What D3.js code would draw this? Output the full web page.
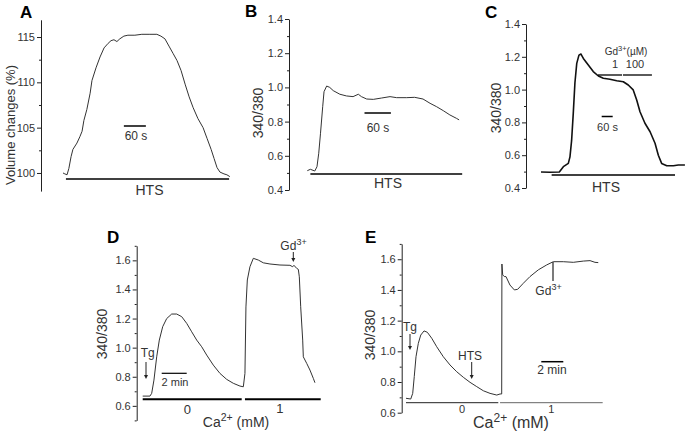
<!DOCTYPE html>
<html><head><meta charset="utf-8">
<script src="https://cdn.jsdelivr.net/npm/d3@7"></script>
<style>body{margin:0;background:#fff}svg{display:block}</style>
</head><body><svg id="c" width="689" height="433"></svg>
<script>
// ---- Panel A: cell volume (%) vs time (s)
const aTime=[0,5,11,16,22,27,38,46,52,57,65,74,79,90,101,112,123,131,139,147,155,166,177,196,215,237,256,267,278,289,300,311,322,333,344,355,368,382,393,404,412,420,428,439,447,455];
const aVol=[100.0,99.9,99.8,100.5,101.8,102.6,103.3,104.0,104.6,105.8,107.0,108.8,110.2,111.6,112.8,113.8,114.3,114.6,114.7,114.5,114.8,115.1,115.2,115.2,115.3,115.3,115.3,115.1,114.8,114.0,113.2,112.4,111.3,109.8,108.4,107.2,106.0,105.0,103.8,102.6,101.6,100.6,100.1,99.9,99.8,99.6];
const aTicks=[100,105,110,115];
// ---- Panel B: 340/380 ratio vs time (s)
const bTime=[0,7,17,22,26,30,35,38,44,51,59,74,89,104,116,123,135,150,169,188,203,226,244,263,279,294,309,324,339,345];
const bRatio=[0.513,0.521,0.511,0.536,0.615,0.732,0.887,0.975,1.008,1.0,0.981,0.96,0.95,0.946,0.96,0.946,0.932,0.93,0.938,0.946,0.94,0.94,0.942,0.932,0.907,0.887,0.864,0.839,0.819,0.81];
// ---- Panel C
const cTime=[0,49,100,122,149,158,167,176,185,195,207,218,231,258,285,313,340,376,413,449,476,503,522,540,567,595,622,640,658,686,722,749,785];
const cRatio=[0.498,0.496,0.498,0.53,0.55,0.59,0.69,0.855,1.04,1.16,1.21,1.217,1.19,1.15,1.11,1.083,1.069,1.063,1.054,1.048,1.028,0.998,0.937,0.865,0.795,0.743,0.673,0.60,0.55,0.536,0.536,0.54,0.54];
const ratioTicksBC=[0.4,0.6,0.8,1.0,1.2,1.4];
// ---- Panel D (time in min)
const dTime=[0,0.58,0.72,0.90,1.12,1.33,1.60,1.92,2.32,2.72,3.12,3.52,3.92,4.32,4.72,5.12,5.65,6.18,6.72,7.25,7.78,8.05,8.18,8.26,8.37,8.58,8.85,9.25,9.65,10.18,10.98,11.78,12.0,12.1,12.32,12.45,12.53,12.64,12.80,12.85,13.12,13.38,13.65,13.78];
const dRatio=[0.667,0.667,0.686,0.777,0.937,1.052,1.144,1.20,1.231,1.231,1.213,1.167,1.109,1.052,1.006,0.949,0.880,0.823,0.782,0.755,0.736,0.731,0.823,1.28,1.465,1.556,1.614,1.602,1.583,1.575,1.568,1.566,1.556,1.566,1.545,1.538,1.487,1.281,1.052,0.937,0.892,0.846,0.789,0.759];
// ---- Panel E (time in min)
const eTime=[0,0.43,0.61,0.75,0.91,1.12,1.34,1.64,1.94,2.34,2.79,3.39,4.0,4.61,5.21,5.82,6.43,7.03,7.64,8.25,8.55,8.70,8.72,8.79,8.94,9.09,9.45,9.85,10.15,10.66,11.27,12.03,12.79,13.39,14.3,15.21,16.12,16.73,17.18,17.48];
const eRatio=[0.694,0.689,0.726,0.835,0.965,1.052,1.106,1.133,1.124,1.085,1.03,0.965,0.911,0.867,0.831,0.798,0.77,0.743,0.726,0.715,0.722,0.722,1.569,1.498,1.487,1.487,1.432,1.40,1.404,1.443,1.487,1.531,1.563,1.584,1.584,1.580,1.588,1.591,1.580,1.578];
const ratioTicksDE=[0.6,0.8,1.0,1.2,1.4,1.6];
const caLevels=["0","1"];

const FONT='"Liberation Sans", Arial, Helvetica, sans-serif';
const INK='#222', TXT='#333';
const svg=d3.select('#c').attr('font-family',FONT);

function yAxis(x0,y,majors,minors,fmt){
  const g=svg.append('g').attr('transform',`translate(${x0},0)`)
    .call(d3.axisLeft(y).tickValues(majors).tickSize(4).tickSizeOuter(0).tickPadding(2).tickFormat(fmt));
  g.select('.domain').attr('stroke',INK);
  g.selectAll('.tick line').attr('stroke',INK);
  g.selectAll('text').attr('font-size',11).attr('fill',TXT).attr('font-family',FONT);
  const m=svg.append('g').attr('transform',`translate(${x0},0)`)
    .call(d3.axisLeft(y).tickValues(minors).tickSize(2).tickFormat(''));
  m.select('.domain').remove();
  m.selectAll('.tick line').attr('stroke',INK);
}
function trace(xs,ys,x,y,w,col){
  const pts=xs.map((t,i)=>[t,ys[i]]);
  svg.append('path').datum(pts).attr('fill','none').attr('stroke',col||INK).attr('stroke-width',w||1)
    .attr('stroke-linejoin','round').attr('d',d3.line().x(d=>x(d[0])).y(d=>y(d[1])));
}
function hbar(x,t0,t1,yy,w,col){
  svg.append('line').attr('x1',x(t0)).attr('x2',x(t1)).attr('y1',yy).attr('y2',yy)
    .attr('stroke',col||'#000').attr('stroke-width',w||1.5);
}
function text(xx,yy,s,size,anchor,weight){
  return svg.append('text').attr('x',xx).attr('y',yy).attr('font-size',size).attr('fill',TXT)
    .attr('text-anchor',anchor||'middle').attr('font-weight',weight||'normal').text(s);
}
function vtitle(xx,yy,s,size){
  svg.append('text').attr('transform',`translate(${xx},${yy}) rotate(-90)`).attr('font-size',size||14)
    .attr('fill',TXT).attr('text-anchor','middle').text(s);
}
function sup(xx,yy,base,supS,rest,size,anchor){
  const t=svg.append('text').attr('x',xx).attr('y',yy).attr('font-size',size).attr('fill',TXT).attr('text-anchor',anchor||'middle');
  t.append('tspan').text(base);
  t.append('tspan').attr('dy',-size*0.4).attr('font-size',size*0.75).text(supS);
  if(rest) t.append('tspan').attr('dy',size*0.4).text(rest);
  return t;
}
function arrow(xx,y0,y1){
  svg.append('line').attr('x1',xx).attr('x2',xx).attr('y1',y0).attr('y2',y1-2).attr('stroke',INK).attr('stroke-width',1);
  svg.append('path').attr('d',`M${xx-2},${y1-4}L${xx+2},${y1-4}L${xx},${y1}Z`).attr('fill',INK);
}
function range(a,b,s){const r=[];for(let v=a;v<=b+1e-9;v+=s)r.push(+v.toFixed(3));return r;}

// ===== A =====
{
  const x=d3.scaleLinear().domain([0,460]).range([63,63+460*22/60]);
  const y=d3.scaleLinear().domain([98,116.9]).range([191.1,19.8]);
  yAxis(41,y,aTicks,[102.5,107.5,112.5],d3.format('d'));
  trace(aTime,aVol,x,y,1,'#333');
  hbar(x,8,453,179,1.5);
  text(149.5,195,'HTS',14);
  hbar(x,166,226,126,1.5);
  text(136,140,'60 s',12);
  vtitle(15,125,'Volume changes (%)',13);
  text(20,18,'A',17,'start','bold').attr('fill','#000');
}
// ===== B =====
{
  const x=d3.scaleLinear().domain([0,350]).range([307.3,307.3+350*0.44]);
  const y=d3.scaleLinear().domain([0.4,1.4]).range([190,19]);
  yAxis(289,y,ratioTicksBC,range(0.5,1.3,0.2),d3.format('.1f'));
  trace(bTime,bRatio,x,y,1,'#333');
  hbar(x,7,352,174,1.5);
  text(388,188,'HTS',14);
  hbar(x,130,190,113,1.5);
  text(378,132,'60 s',12);
  vtitle(263,113,'340/380',14);
  text(245,17,'B',17,'start','bold').attr('fill','#000');
}
// ===== C =====
{
  const x=d3.scaleLinear().domain([0,790]).range([541,541+790*11/60]);
  const y=d3.scaleLinear().domain([0.4,1.4]).range([188,24]);
  yAxis(526,y,ratioTicksBC,range(0.5,1.3,0.2),d3.format('.1f'));
  trace(cTime,cRatio,x,y,1.6,'#111');
  hbar(x,58,731,175,1.5);
  text(606,192,'HTS',14);
  hbar(x,311,442,75,1.3);
  hbar(x,447,605,75,1.3);
  text(615,68,'1',11);
  text(635,68,'100',11);
  sup(626,55,'Gd','3+','(\u00b5M)',10);
  hbar(x,331,391,116.5,1.5);
  text(607.5,131,'60 s',11);
  vtitle(501,108,'340/380',14);
  text(485,18,'C',17,'start','bold').attr('fill','#000');
}
// ===== D =====
{
  const x=d3.scaleLinear().domain([0,14.5]).range([142.7,142.7+14.5*12.5]);
  const y=d3.scaleLinear().domain([0.5,1.7]).range([420.4,245.8]);
  yAxis(136.7,y,ratioTicksDE,[0.5,0.7,0.9,1.1,1.3,1.5,1.7],d3.format('.1f'));
  trace(dTime,dRatio,x,y,1,'#333');
  hbar(x,0,7.92,399.3,2);
  hbar(x,8.18,14.24,399.3,2);
  text(x(3.57),414,caLevels[0],13);
  text(x(10.98),413,caLevels[1],13);
  sup(236,427,'Ca','2+',' (mM)',14);
  hbar(x,1.52,3.52,373.3,1.2);
  text(175,386,'2 min',11);
  text(147.7,357,'Tg',12);
  arrow(146,362,379);
  sup(293.5,250,'Gd','3+',null,12);
  arrow(293.3,252,262);
  vtitle(107,334,'340/380',14);
  text(107,243,'D',17,'start','bold').attr('fill','#000');
}
// ===== E =====
{
  const x=d3.scaleLinear().domain([0,18]).range([406,406+18*11]);
  const y=d3.scaleLinear().domain([0.6,1.7]).range([412.7,243.9]);
  yAxis(401.7,y,ratioTicksDE,[0.7,0.9,1.1,1.3,1.5,1.7],d3.format('.1f'));
  trace(eTime,eRatio,x,y,1,'#333');
  hbar(x,0,8.39,402.7,1,'#222');
  hbar(x,8.55,17.88,402.7,1,'#666');
  text(x(5.1),413,caLevels[0],11);
  text(x(13.2),413,caLevels[1],11);
  sup(511,428,'Ca','2+',' (mM)',16);
  hbar(x,12.3,14.3,361.7,1.5);
  text(552,374,'2 min',12);
  text(410,331,'Tg',12);
  arrow(410,334,350);
  text(470,360,'HTS',12);
  arrow(471.7,362,379);
  svg.append('line').attr('x1',553).attr('x2',553).attr('y1',262).attr('y2',281).attr('stroke',INK).attr('stroke-width',1.2);
  sup(548.5,295,'Gd','3+',null,12);
  vtitle(375,335,'340/380',14);
  text(365,243,'E',17,'start','bold').attr('fill','#000');
}
</script></body></html>
